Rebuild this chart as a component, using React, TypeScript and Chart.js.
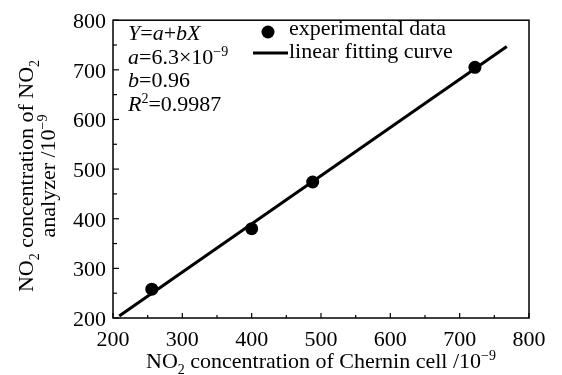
import React, { useEffect, useRef } from "react";
import { Chart, registerables } from "chart.js";

Chart.register(...registerables);

// Data
const expX = [256, 400, 488, 722];
const expY = [258, 380, 474, 705];
const fitX = [209, 768];
const fitY = [204, 747];

const xMin = 200, xMax = 800, yMin = 200, yMax = 800, step = 100;

const legendLabels = ["experimental data", "linear fitting curve"];

const FONT = '"Liberation Serif", "Times New Roman", serif';
const SIZE = 22;

type Seg = { t: string; it?: boolean; sub?: boolean; sup?: boolean };

const eqLines: Seg[][] = [
  [{ t: "Y", it: true }, { t: "=" }, { t: "a", it: true }, { t: "+" }, { t: "b", it: true }, { t: "X", it: true }],
  [{ t: "a", it: true }, { t: "=6.3×10" }, { t: "−9", sup: true }],
  [{ t: "b", it: true }, { t: "=0.96" }],
  [{ t: "R", it: true }, { t: "2", sup: true }, { t: "=0.9987" }],
];

const xTitle: Seg[] = [
  { t: "NO" }, { t: "2", sub: true }, { t: " concentration of Chernin cell /10" }, { t: "−9", sup: true },
];
const yTitle1: Seg[] = [{ t: "NO" }, { t: "2", sub: true }, { t: " concentration of NO" }, { t: "2", sub: true }];
const yTitle2: Seg[] = [{ t: "analyzer /10" }, { t: "−9", sup: true }];

function segFont(s: Seg, size: number) {
  const sz = s.sub || s.sup ? Math.round(size * 0.62) : size;
  return `${s.it ? "italic " : ""}${sz}px ${FONT}`;
}

function drawRich(ctx: CanvasRenderingContext2D, segs: Seg[], x: number, y: number, align: "left" | "center", size = SIZE) {
  let w = 0;
  for (const s of segs) {
    ctx.font = segFont(s, size);
    w += ctx.measureText(s.t).width;
  }
  let cx = align === "center" ? x - w / 2 : x;
  ctx.textAlign = "left";
  ctx.textBaseline = "alphabetic";
  for (const s of segs) {
    ctx.font = segFont(s, size);
    const dy = s.sub ? size * 0.28 : s.sup ? -size * 0.36 : 0;
    ctx.fillText(s.t, cx, y + dy);
    cx += ctx.measureText(s.t).width;
  }
}

const decorPlugin = {
  id: "decor",
  afterDraw(chart: any) {
    const ctx: CanvasRenderingContext2D = chart.ctx;
    const { left, right, top, bottom } = chart.chartArea;
    const xs = chart.scales.x;
    const ys = chart.scales.y;
    ctx.save();
    ctx.strokeStyle = "#000";
    ctx.fillStyle = "#000";
    // frame
    ctx.lineWidth = 1.5;
    ctx.strokeRect(left, top, right - left, bottom - top);
    // inward ticks (major + minor)
    ctx.lineWidth = 1.2;
    const xt = xs.ticks.map((t: any) => t.value);
    for (let i = 0; i < xt.length; i++) {
      const px = xs.getPixelForValue(xt[i]);
      ctx.beginPath(); ctx.moveTo(px, bottom); ctx.lineTo(px, bottom - 5); ctx.stroke();
      if (i < xt.length - 1) {
        const pm = xs.getPixelForValue((xt[i] + xt[i + 1]) / 2);
        ctx.beginPath(); ctx.moveTo(pm, bottom); ctx.lineTo(pm, bottom - 3); ctx.stroke();
      }
    }
    const yt = ys.ticks.map((t: any) => t.value);
    for (let i = 0; i < yt.length; i++) {
      const py = ys.getPixelForValue(yt[i]);
      ctx.beginPath(); ctx.moveTo(left, py); ctx.lineTo(left + 6, py); ctx.stroke();
      if (i < yt.length - 1) {
        const pm = ys.getPixelForValue((yt[i] + yt[i + 1]) / 2);
        ctx.beginPath(); ctx.moveTo(left, pm); ctx.lineTo(left + 4, pm); ctx.stroke();
      }
    }
    // equation block
    const eqBase = [40, 64, 87, 111];
    eqLines.forEach((ln, i) => drawRich(ctx, ln, left + 15, eqBase[i], "left"));
    // legend
    const ds0 = chart.data.datasets[0];
    const ds1 = chart.data.datasets[1];
    ctx.fillStyle = ds0.backgroundColor;
    ctx.beginPath(); ctx.arc(268, 32, ds0.pointRadius, 0, Math.PI * 2); ctx.fill();
    ctx.strokeStyle = ds1.borderColor;
    ctx.lineWidth = ds1.borderWidth;
    ctx.beginPath(); ctx.moveTo(253, 53); ctx.lineTo(288, 53); ctx.stroke();
    ctx.fillStyle = "#000";
    ctx.font = `${SIZE}px ${FONT}`;
    ctx.textAlign = "left";
    ctx.textBaseline = "alphabetic";
    ctx.fillText(legendLabels[0], 289, 35);
    ctx.fillText(legendLabels[1], 289, 58);
    // axis titles
    drawRich(ctx, xTitle, (left + right) / 2, 368, "center");
    ctx.save();
    ctx.translate(0, 176);
    ctx.rotate(-Math.PI / 2);
    drawRich(ctx, yTitle1, 0, 33, "center");
    drawRich(ctx, yTitle2, 0, 55, "center");
    ctx.restore();
    ctx.restore();
  },
};

export default function App() {
  const ref = useRef<HTMLCanvasElement>(null);
  useEffect(() => {
    document.body.style.margin = "0";
    const canvas = ref.current!;
    const chart = new Chart(canvas, {
      type: "scatter",
      data: {
        datasets: [
          {
            label: legendLabels[0],
            data: expX.map((x, i) => ({ x, y: expY[i] })),
            backgroundColor: "#000",
            borderWidth: 0,
            pointRadius: 6.5,
            pointHoverRadius: 6.5,
          } as any,
          {
            label: legendLabels[1],
            data: fitX.map((x, i) => ({ x, y: fitY[i] })),
            showLine: true,
            borderColor: "#000",
            borderWidth: 3,
            pointRadius: 0,
            backgroundColor: "#000",
          } as any,
        ],
      },
      options: {
        responsive: false,
        devicePixelRatio: 1,
        animation: false,
        layout: { padding: { left: 0, top: 14, right: 33, bottom: 0 } },
        plugins: { legend: { display: false }, tooltip: { enabled: false } },
        scales: {
          x: {
            type: "linear",
            min: xMin,
            max: xMax,
            grid: { display: false, drawTicks: false },
            border: { display: false },
            ticks: { stepSize: step, color: "#000", font: { family: FONT, size: SIZE }, padding: 9, maxRotation: 0 },
            afterFit: (s: any) => { s.height = 57; },
          },
          y: {
            type: "linear",
            min: yMin,
            max: yMax,
            grid: { display: false, drawTicks: false },
            border: { display: false },
            ticks: { stepSize: step, color: "#000", font: { family: FONT, size: SIZE }, padding: 7, labelOffset: 2 },
            afterFit: (s: any) => { s.width = 113; },
          },
        },
      },
      plugins: [decorPlugin],
    });
    return () => chart.destroy();
  }, []);
  return (
    <div style={{ width: 562, height: 375, background: "#fff" }}>
      <canvas ref={ref} width={562} height={375} style={{ width: 562, height: 375, display: "block" }} />
    </div>
  );
}
